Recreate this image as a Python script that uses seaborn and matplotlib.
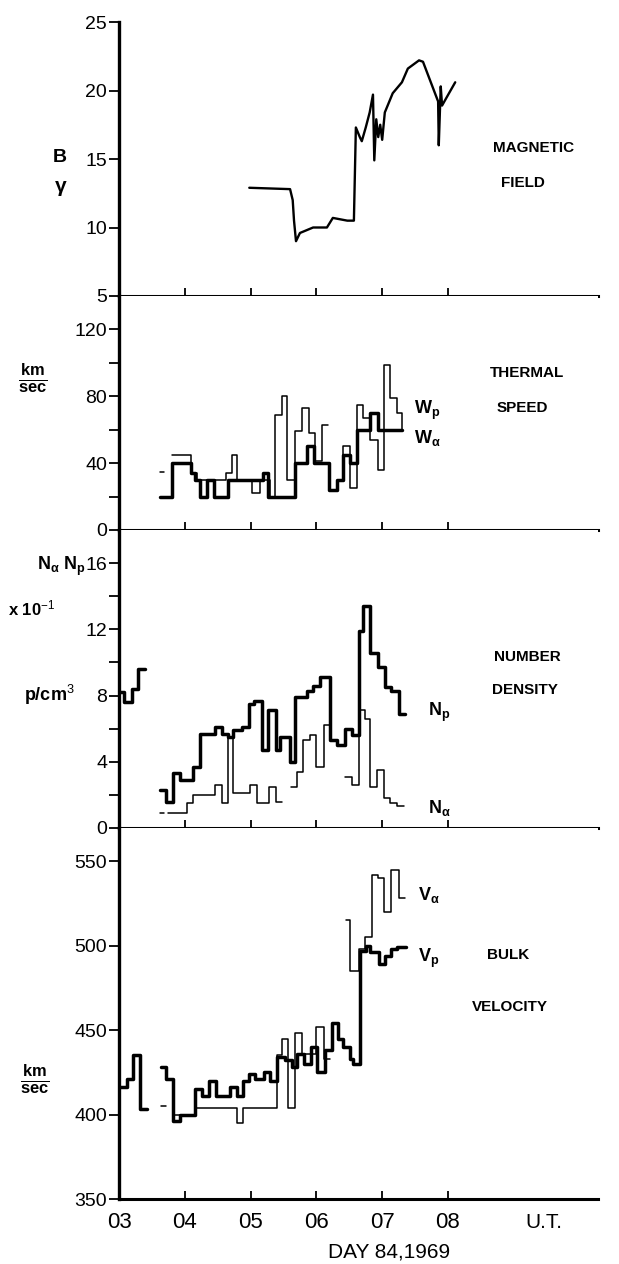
import numpy as np
import pandas as pd
import matplotlib
matplotlib.use("Agg")
import matplotlib.pyplot as plt
import seaborn as sns

nan = np.nan

# ---------------- data (time in hours U.T., day 84 1969) ----------------
HOUR_TICKS = [3, 4, 5, 6, 7, 8]
HOUR_LABELS = ["03", "04", "05", "06", "07", "08"]

# magnetic field B (gamma)
B_T = [4.98, 5.60, 5.64, 5.66, 5.69, 5.75, 5.95, 6.16, 6.25, 6.47, 6.57, 6.60, 6.66,
       6.69, 6.75, 6.81, 6.86, 6.88, 6.91, 6.94, 6.97, 7.00, 7.04, 7.16, 7.30, 7.39,
       7.56, 7.62, 7.85, 7.86, 7.89, 7.91, 7.98, 8.11]
B_V = [12.9, 12.8, 12.0, 10.5, 9.0, 9.6, 10.0, 10.0, 10.7, 10.5, 10.5, 17.3, 16.6,
       16.3, 17.3, 18.4, 19.7, 14.9, 17.9, 16.6, 17.5, 16.4, 18.4, 19.8, 20.6, 21.6,
       22.2, 22.1, 19.2, 16.0, 20.3, 18.9, 19.5, 20.6]

# thermal speed (km/sec): thick and thin traces
WP_T = [3.62, 3.81, 4.10, 4.16, 4.23, 4.34, 4.44, 4.66, 5.19, 5.27, 5.68, 5.86, 5.96,
        6.19, 6.31, 6.41, 6.51, 6.61, 6.82, 6.94, 7.30]
WP_V = [20, 40, 34, 30, 20, 30, 20, 30, 34, 20, 40, 50, 40,
        24, 30, 45, 40, 60, 70, 60, 60]
WA_T = [3.62, 3.69, nan, 3.81, 4.10, 4.18, 4.62, 4.71, 4.79, 5.02, 5.14, 5.29, 5.37,
        5.47, 5.55, 5.68, 5.78, 5.89, 5.98, 6.08, 6.18, nan, 6.41, 6.41, 6.51, 6.61,
        6.71, 6.82, 6.94, 7.02, 7.12, 7.23, 7.30, 7.30]
WA_V = [35, 35, nan, 45, 34, 30, 34, 45, 30, 22, 30, 20, 69,
        80, 30, 59, 73, 58, 41, 63, 63, nan, 45, 50, 25, 75,
        67, 54, 36, 99, 79, 70, 70, 60]

# number density (x 10^-1 p/cm^3)
NP_T = [3.00, 3.08, 3.19, 3.29, 3.40, nan, 3.62, 3.72, 3.82, 3.93, 4.13, 4.23, 4.46,
        4.56, 4.66, 4.74, 4.87, 4.97, 5.05, 5.17, 5.27, 5.38, 5.45, 5.60, 5.67, 5.85,
        5.95, 6.05, 6.21, 6.31, 6.43, 6.54, 6.64, 6.71, 6.82, 6.94, 7.04, 7.14, 7.25, 7.35]
NP_V = [8.2, 7.6, 8.4, 9.6, 9.6, nan, 2.3, 1.6, 3.3, 2.9, 3.7, 5.7, 6.1,
        5.7, 5.5, 5.9, 6.1, 7.5, 7.7, 4.7, 7.1, 4.7, 5.5, 4.0, 7.9, 8.3,
        8.6, 9.1, 5.3, 5.0, 6.0, 5.6, 11.9, 13.4, 10.6, 9.7, 8.5, 8.3, 6.9, 6.9]
NA_T = [3.62, 3.68, nan, 3.74, 4.03, 4.13, 4.46, 4.56, 4.66, 4.74, 4.99, 5.09, 5.28,
        5.38, 5.48, nan, 5.61, 5.70, 5.80, 5.90, 6.00, 6.11, 6.21, nan, 6.44, 6.54,
        6.64, 6.74, 6.82, 6.92, 7.02, 7.12, 7.22, 7.33]
NA_V = [0.9, 0.9, nan, 0.9, 1.5, 2.0, 2.6, 1.5, 5.5, 2.1, 2.6, 1.5, 2.5,
        1.6, 1.6, nan, 2.5, 3.4, 5.3, 5.6, 3.7, 6.2, 6.2, nan, 3.1, 2.6,
        7.1, 6.6, 2.5, 3.5, 1.8, 1.5, 1.3, 1.3]

# bulk velocity (km/sec)
VP_T = [3.00, 3.12, 3.22, 3.32, 3.42, nan, 3.64, 3.72, 3.82, 3.93, 4.16, 4.26, 4.37,
        4.48, 4.69, 4.79, 4.89, 4.97, 5.07, 5.20, 5.30, 5.40, 5.53, 5.63, 5.71, 5.81,
        5.92, 6.01, 6.13, 6.23, 6.33, 6.41, 6.51, 6.56, 6.66, 6.75, 6.82, 6.95, 7.05,
        7.13, 7.23, 7.36]
VP_V = [416, 421, 435, 403, 403, nan, 428, 421, 396, 400, 415, 411, 420,
        411, 416, 411, 420, 424, 421, 425, 420, 434, 432, 428, 436, 430,
        440, 425, 438, 454, 445, 440, 433, 430, 497, 500, 496, 489, 494,
        498, 499, 499]
VA_T = [3.64, 3.72, nan, 3.84, 4.16, 4.79, 4.89, 5.40, 5.47, 5.57, 5.68, 5.78, 6.00,
        6.11, 6.21, nan, 6.45, 6.51, 6.64, 6.74, 6.84, 6.94, 7.03, 7.14, 7.25, 7.35]
VA_V = [405, 405, nan, 400, 404, 395, 404, 435, 445, 404, 448, 436, 452,
        433, 433, nan, 515, 485, 498, 505, 542, 540, 520, 545, 528, 528]


def segments(t, v):
    t = np.asarray(t, float)
    v = np.asarray(v, float)
    seg = np.cumsum(np.isnan(t))
    df = pd.DataFrame({"t": t, "v": v, "seg": seg})
    return df.dropna().reset_index(drop=True)


# ---------------- style ----------------
sns.set_style("ticks")
plt.rcParams["font.family"] = ["Liberation Sans", "DejaVu Sans"]
plt.rcParams["mathtext.fontset"] = "custom"
plt.rcParams["mathtext.rm"] = "Liberation Sans"
plt.rcParams["mathtext.it"] = "Liberation Sans:italic"
plt.rcParams["mathtext.bf"] = "Liberation Sans:bold"
plt.rcParams["axes.facecolor"] = "white"
plt.rcParams["figure.facecolor"] = "white"

W, H = 619, 1264
fig = plt.figure(figsize=(W / 100, H / 100), dpi=100)


def box(top_px, bottom_px, left_px=119, right_px=598):
    return [left_px / W, 1 - bottom_px / H, (right_px - left_px) / W,
            (bottom_px - top_px) / H]


def ftext(x, y, s, **kw):
    fig.text(x / W, 1 - y / H, s, **kw)


ax1 = fig.add_axes(box(22, 296))
ax2 = fig.add_axes(box(296, 530))
ax3 = fig.add_axes(box(530, 828))
ax4 = fig.add_axes(box(828, 1199))
axes = [ax1, ax2, ax3, ax4]

THICK = 2.5
THIN = 1.1


def steps(ax, t, v, lw):
    df = segments(t, v)
    sns.lineplot(data=df, x="t", y="v", units="seg", estimator=None, sort=False,
                 drawstyle="steps-post", color="black", linewidth=lw, ax=ax,
                 legend=False)


# panel 1
sns.lineplot(x=B_T, y=B_V, sort=False, estimator=None, color="black",
             linewidth=1.7, ax=ax1)
# panel 2
steps(ax2, WA_T, WA_V, THIN)
steps(ax2, WP_T, WP_V, THICK)
# panel 3
steps(ax3, NA_T, NA_V, THIN)
steps(ax3, NP_T, NP_V, THICK)
# panel 4
steps(ax4, VA_T, VA_V, THIN)
steps(ax4, VP_T, VP_V, THICK)

ax1.set_ylim(5, 25)
ax1.set_yticks([5, 10, 15, 20, 25])
ax2.set_ylim(0, 140)
ax2.set_yticks([0, 20, 40, 60, 80, 100, 120])
ax2.set_yticklabels(["0", "", "40", "", "80", "", "120"])
ax3.set_ylim(0, 18)
ax3.set_yticks([0, 2, 4, 6, 8, 10, 12, 14, 16])
ax3.set_yticklabels(["0", "", "4", "", "8", "", "12", "", "16"])
ax4.set_ylim(350, 569.6)
ax4.set_yticks([350, 400, 450, 500, 550])

for ax in axes:
    ax.set_xlim(3.0, 10.28)
    ax.set_xlabel("")
    ax.set_ylabel("")
    ax.spines["top"].set_visible(False)
    ax.spines["right"].set_visible(False)
    ax.spines["left"].set_linewidth(2.4)
    ax.spines["bottom"].set_linewidth(2.2)
    ax.spines["left"].set_color("black")
    ax.spines["bottom"].set_color("black")
    ax.tick_params(axis="y", direction="out", length=7, width=1.3, labelsize=14,
                   pad=1.5, colors="black")
    ax.tick_params(axis="x", direction="in", length=6, width=1.3, colors="black")
    if ax is ax4:
        ax.set_xticks(HOUR_TICKS)
        ax.set_xticklabels(HOUR_LABELS)
        ax.tick_params(axis="x", labelsize=16, pad=9)
    else:
        ax.set_xticks(HOUR_TICKS[1:])
        ax.tick_params(axis="x", labelbottom=False)

# ---------------- annotations ----------------
bold = dict(fontweight="bold", color="black")
# panel 1
ftext(60, 157, "B", fontsize=14, ha="center", va="center", **bold)
ftext(61, 186, "γ", fontsize=15, ha="center", va="center", **bold)
ftext(493, 148, "MAGNETIC", fontsize=11, ha="left", va="center", **bold)
ftext(501, 183, "FIELD", fontsize=11, ha="left", va="center", **bold)
# panel 2
ftext(33, 378, r"$\frac{\mathbf{km}}{\mathbf{sec}}$", fontsize=17, ha="center",
      va="center", color="black")
ftext(490, 373, "THERMAL", fontsize=11, ha="left", va="center", **bold)
ftext(497, 408, "SPEED", fontsize=11, ha="left", va="center", **bold)
ftext(414, 410, r"$\mathbf{W_p}$", fontsize=13, ha="left", va="center", color="black")
ftext(414, 438, r"$\mathbf{W_\alpha}$", fontsize=13, ha="left", va="center", color="black")
# panel 3
ftext(86, 566, r"$\mathbf{N_\alpha\ N_p}$", fontsize=13, ha="right", va="center",
      color="black")
ftext(8, 608, r"x 10$^{-1}$", fontsize=12, ha="left", va="center", **bold)
ftext(24, 695, r"p/cm$^3$", fontsize=13, ha="left", va="center", **bold)
ftext(494, 657, "NUMBER", fontsize=11, ha="left", va="center", **bold)
ftext(492, 690, "DENSITY", fontsize=11, ha="left", va="center", **bold)
ftext(428, 712, r"$\mathbf{N_p}$", fontsize=13, ha="left", va="center", color="black")
ftext(428, 808, r"$\mathbf{N_\alpha}$", fontsize=13, ha="left", va="center", color="black")
# panel 4
ftext(35, 1079, r"$\frac{\mathbf{km}}{\mathbf{sec}}$", fontsize=17, ha="center",
      va="center", color="black")
ftext(418, 895, r"$\mathbf{V_\alpha}$", fontsize=13, ha="left", va="center", color="black")
ftext(418, 958, r"$\mathbf{V_p}$", fontsize=13, ha="left", va="center", color="black")
ftext(487, 955, "BULK", fontsize=11, ha="left", va="center", **bold)
ftext(472, 1007, "VELOCITY", fontsize=11, ha="left", va="center", **bold)
# x axis extra labels
ftext(544, 1222, "U.T.", fontsize=15, ha="center", va="center", color="black")
ftext(389, 1252, "DAY 84,1969", fontsize=15, ha="center", va="center", color="black")

fig.savefig("out.png", dpi=100, facecolor="white")
